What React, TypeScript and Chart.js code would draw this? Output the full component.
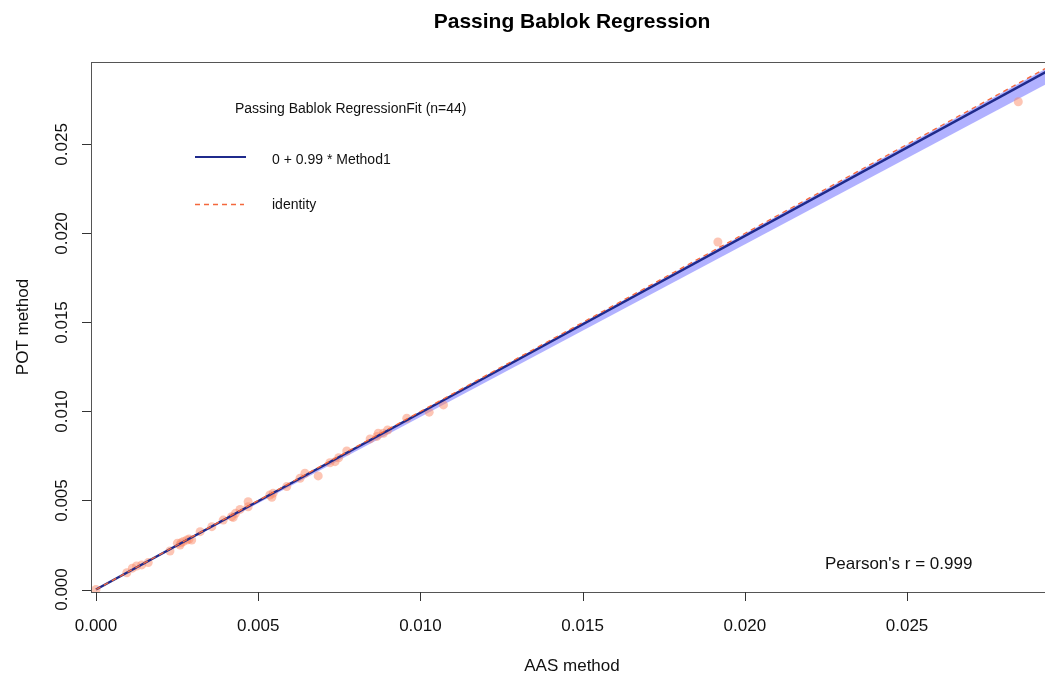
import React, { useEffect, useRef } from "react";
import { Chart, registerables } from "chart.js";

Chart.register(...registerables);

// ---- data ----
const aasValues: number[] = [
  0.0, 0.00095, 0.00112, 0.00125, 0.00141, 0.00161, 0.00228, 0.00251, 0.00259, 0.00262,
  0.00269, 0.0028, 0.00287, 0.00295, 0.00321, 0.00357, 0.00392, 0.00418, 0.00423, 0.0043,
  0.00444, 0.00469, 0.00469, 0.00536, 0.00542, 0.00546, 0.00588, 0.00629, 0.00644, 0.00685,
  0.00721, 0.00737, 0.00748, 0.00773, 0.00845, 0.00866, 0.0087, 0.00886, 0.00899, 0.00958,
  0.01027, 0.01071, 0.01917, 0.02843,
];
const potValues: number[] = [
  0.0, 0.00094, 0.0012, 0.00132, 0.00138, 0.00151, 0.00216, 0.0026, 0.0025, 0.00262,
  0.00269, 0.00278, 0.00283, 0.00278, 0.00325, 0.00353, 0.0039, 0.00409, 0.00405, 0.00428,
  0.0045, 0.00493, 0.00465, 0.00531, 0.00518, 0.0054, 0.00578, 0.00625, 0.00653, 0.00638,
  0.00712, 0.00718, 0.0074, 0.00778, 0.00846, 0.0086, 0.00878, 0.00878, 0.00896, 0.00962,
  0.00996, 0.01037, 0.01952, 0.0274,
];

const fitIntercept = 0;
const fitSlope = 0.993;
const ciSlopeLow = 0.969;
const ciSlopeHigh = 0.999;
const identitySlope = 1;

const xRange: [number, number] = [-0.000154, 0.0295];
const yRange: [number, number] = [-0.00014, 0.02963];
const lineXs: number[] = [0, 0.0295];

const xTicks: number[] = [0, 0.005, 0.01, 0.015, 0.02, 0.025];
const yTicks: number[] = [0, 0.005, 0.01, 0.015, 0.02, 0.025];
const xTickLabels: string[] = ["0.000", "0.005", "0.010", "0.015", "0.020", "0.025"];
const yTickLabels: string[] = ["0.000", "0.005", "0.010", "0.015", "0.020", "0.025"];

const titleText = "Passing Bablok Regression";
const xTitle = "AAS method";
const yTitle = "POT method";
const legendTitle = "Passing Bablok RegressionFit (n=44)";
const legendFit = "0 + 0.99 * Method1";
const legendIdentity = "identity";
const pearsonText = "Pearson's r = 0.999";

// ---- styles ----
const FONT = "'Liberation Sans', Arial, Helvetica, sans-serif";
const CANVAS_W = 1060;
const CANVAS_H = 674;
const PLOT_LEFT = 91;
const PLOT_TOP = 62;
const PLOT_RIGHT = 1053;
const PLOT_BOTTOM = 592;

const pointColor = "rgba(252,140,105,0.5)";
const fitColor = "#1f2a8c";
const bandColor = "rgba(125,125,255,0.6)";
const identityColor = "#f4683c";
const axisColor = "#555555";

const decorPlugin = {
  id: "decor",
  afterDraw(chart: any) {
    const ctx: CanvasRenderingContext2D = chart.ctx;
    const a = chart.chartArea;
    const xs = chart.scales.x;
    const ys = chart.scales.y;
    ctx.save();
    // box
    ctx.strokeStyle = axisColor;
    ctx.lineWidth = 1;
    ctx.strokeRect(Math.round(a.left) + 0.5, Math.round(a.top) + 0.5, Math.round(a.right - a.left), Math.round(a.bottom - a.top));
    // ticks
    ctx.strokeStyle = "#333";
    ctx.beginPath();
    xTicks.forEach((v) => {
      const px = Math.round(xs.getPixelForValue(v)) + 0.5;
      ctx.moveTo(px, a.bottom);
      ctx.lineTo(px, a.bottom + 9);
    });
    yTicks.forEach((v) => {
      const py = Math.round(ys.getPixelForValue(v)) + 0.5;
      ctx.moveTo(a.left, py);
      ctx.lineTo(a.left - 9, py);
    });
    ctx.stroke();
    // tick labels
    ctx.fillStyle = "#111";
    ctx.font = `17px ${FONT}`;
    ctx.textAlign = "center";
    ctx.textBaseline = "alphabetic";
    xTicks.forEach((v, i) => {
      ctx.fillText(xTickLabels[i], xs.getPixelForValue(v), 631);
    });
    yTicks.forEach((v, i) => {
      ctx.save();
      ctx.translate(67, ys.getPixelForValue(v));
      ctx.rotate(-Math.PI / 2);
      ctx.fillText(yTickLabels[i], 0, 0);
      ctx.restore();
    });
    // axis titles
    ctx.fillText(xTitle, (a.left + a.right) / 2, 671);
    ctx.save();
    ctx.translate(28, (a.top + a.bottom) / 2);
    ctx.rotate(-Math.PI / 2);
    ctx.fillText(yTitle, 0, 0);
    ctx.restore();
    // title
    ctx.font = `bold 21px ${FONT}`;
    ctx.fillStyle = "#000";
    ctx.fillText(titleText, (a.left + a.right) / 2, 28);
    // legend
    ctx.textAlign = "left";
    ctx.font = `14px ${FONT}`;
    ctx.fillStyle = "#111";
    ctx.fillText(legendTitle, 235, 113);
    ctx.fillText(legendFit, 272, 164);
    ctx.fillText(legendIdentity, 272, 209);
    ctx.strokeStyle = fitColor;
    ctx.lineWidth = 2;
    ctx.beginPath();
    ctx.moveTo(195, 157);
    ctx.lineTo(246, 157);
    ctx.stroke();
    ctx.strokeStyle = identityColor;
    ctx.lineWidth = 1.3;
    ctx.setLineDash([5, 4]);
    ctx.beginPath();
    ctx.moveTo(195, 204.5);
    ctx.lineTo(244, 204.5);
    ctx.stroke();
    ctx.setLineDash([]);
    // pearson
    ctx.font = `17px ${FONT}`;
    ctx.fillText(pearsonText, 825, 569);
    ctx.restore();
  },
};

export default function App() {
  const ref = useRef<HTMLCanvasElement | null>(null);

  useEffect(() => {
    if (!ref.current) return;
    const points = aasValues.map((x, i) => ({ x, y: potValues[i] }));
    const lineOf = (slope: number, intercept: number) =>
      lineXs.map((x) => ({ x, y: intercept + slope * x }));

    const chart = new Chart(ref.current, {
      type: "scatter",
      data: {
        datasets: [
          {
            type: "line",
            label: "ci-low",
            data: lineOf(ciSlopeLow, fitIntercept),
            borderWidth: 0,
            pointRadius: 0,
            backgroundColor: bandColor,
            fill: "+1",
            order: 5,
          } as any,
          {
            type: "line",
            label: "ci-high",
            data: lineOf(ciSlopeHigh, fitIntercept),
            borderWidth: 0,
            pointRadius: 0,
            fill: false,
            order: 5,
          } as any,
          {
            label: "points",
            data: points,
            pointRadius: 4.5,
            pointBackgroundColor: pointColor,
            pointBorderWidth: 0,
            order: 4,
          } as any,
          {
            type: "line",
            label: "fit",
            data: lineOf(fitSlope, fitIntercept),
            borderColor: fitColor,
            borderWidth: 2.5,
            pointRadius: 0,
            fill: false,
            order: 2,
          } as any,
          {
            type: "line",
            label: "identity",
            data: lineOf(identitySlope, 0),
            borderColor: identityColor,
            borderWidth: 1.3,
            borderDash: [5, 4],
            pointRadius: 0,
            fill: false,
            order: 1,
          } as any,
        ],
      },
      options: {
        animation: false,
        responsive: false,
        events: [],
        layout: {
          padding: { top: PLOT_TOP, right: CANVAS_W - PLOT_RIGHT, left: 0, bottom: 0 },
        },
        plugins: {
          legend: { display: false },
          tooltip: { enabled: false },
          title: { display: false },
        },
        scales: {
          x: {
            type: "linear",
            min: xRange[0],
            max: xRange[1],
            grid: { display: false },
            border: { display: false },
            ticks: { display: false },
            afterFit: (s: any) => {
              s.height = CANVAS_H - PLOT_BOTTOM;
            },
          },
          y: {
            type: "linear",
            min: yRange[0],
            max: yRange[1],
            grid: { display: false },
            border: { display: false },
            ticks: { display: false },
            afterFit: (s: any) => {
              s.width = PLOT_LEFT;
            },
          },
        },
      } as any,
      plugins: [decorPlugin],
    });
    return () => chart.destroy();
  }, []);

  return (
    <div
      style={{
        position: "fixed",
        left: 0,
        top: 0,
        width: 1045,
        height: 674,
        overflow: "hidden",
        background: "#fff",
      }}
    >
      <canvas ref={ref} width={CANVAS_W} height={CANVAS_H} style={{ display: "block", width: CANVAS_W, height: CANVAS_H }} />
    </div>
  );
}
